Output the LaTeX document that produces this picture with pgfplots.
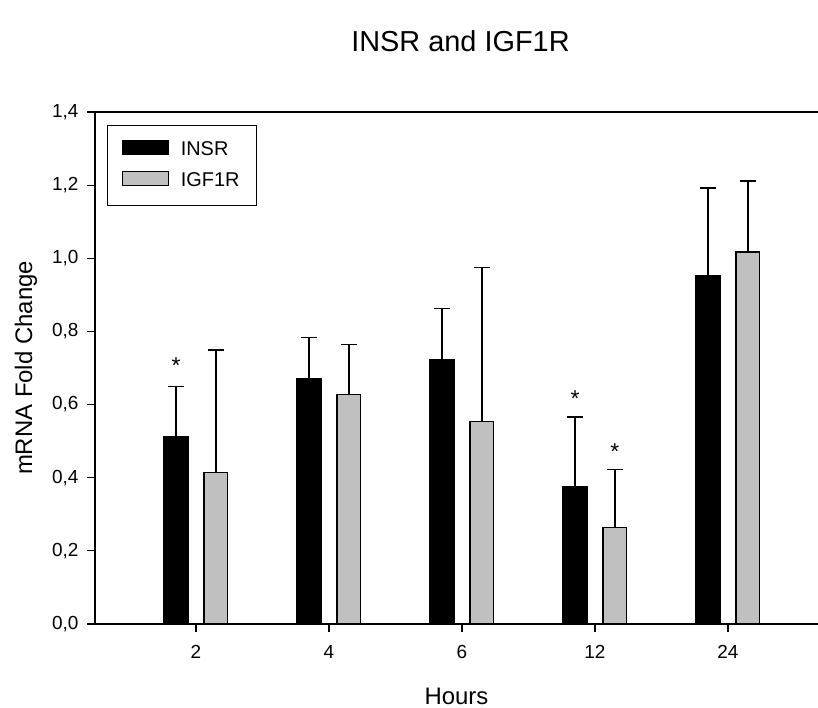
\documentclass[border=0pt]{standalone}
\usepackage{pgfplots}
\pgfplotsset{compat=1.18}
\usepackage{fontspec}
\setmainfont{Liberation Sans}
\definecolor{barGray}{RGB}{192,192,192}
\begin{document}
\begin{tikzpicture}
\useasboundingbox (0,0) rectangle (409bp,354bp);
\begin{axis}[
  at={(47.5bp,42bp)}, anchor=south west,
  scale only axis, width=361.5bp, height=256bp,
  xmin=-0.759, xmax=4.677, ymin=0, ymax=1.4,
  axis lines*=left, axis line style={-, line width=0.7bp},
  tick align=outside, major tick length=3.75bp,
  tick style={line width=0.6bp, black},
  xtick={0,1,2,3,4}, xticklabels={2,4,6,12,24},
  ytick={0,0.2,0.4,0.6,0.8,1.0,1.2,1.4},
  yticklabels={{0,0},{0,2},{0,4},{0,6},{0,8},{1,0},{1,2},{1,4}},
  ticklabel style={font=\fontsize{9.5}{11}\selectfont},
  xticklabel style={yshift=-3.5bp},
  yticklabel style={xshift=-1bp},
  title={INSR and IGF1R},
  title style={at={(axis description cs:0.5,1)}, anchor=center, yshift=29.5bp, xshift=2bp, font=\fontsize{14.5}{16}\selectfont},
  xlabel={Hours},
  every axis x label/.style={at={(axis description cs:0.5,0)}, anchor=center, yshift=-36bp, font=\fontsize{12}{14}\selectfont},
  ylabel={mRNA Fold Change},
  every axis y label/.style={at={(axis description cs:0,0.5)}, xshift=-34.5bp, rotate=90, anchor=center, font=\fontsize{12}{14}\selectfont},
  legend image code/.code={\draw[#1, line width=0.6bp] (0bp,-2.4bp) rectangle (23bp,4.6bp);},
  legend cell align=left,
  legend style={at={(axis description cs:0,1)}, anchor=north west, xshift=6bp, yshift=-6.5bp,
    draw=black, line width=0.6bp, font=\fontsize{10}{12}\selectfont,
    inner xsep=7bp, inner ysep=6.5bp, row sep=4bp, column sep=4.5bp,
    nodes={inner sep=1.5bp}},
  error bars/error bar style={line width=0.7bp, black},
  error bars/error mark options={rotate=90, mark size=4bp, line width=0.7bp, black},
]
\addplot[ybar, bar width=0.18, bar shift=0, fill=black, draw=black, line width=0.6bp,
  error bars/.cd, y dir=plus, y explicit]
  coordinates {(-0.15,0.513) +- (0,0.137) (0.85,0.671) +- (0,0.112) (1.85,0.723) +- (0,0.140)
               (2.85,0.376) +- (0,0.190) (3.85,0.953) +- (0,0.239)};
\addlegendentry{INSR}
\addplot[ybar, bar width=0.18, bar shift=0, fill=barGray, draw=black, line width=0.6bp,
  error bars/.cd, y dir=plus, y explicit]
  coordinates {(0.15,0.415) +- (0,0.334) (1.15,0.627) +- (0,0.137) (2.15,0.553) +- (0,0.422)
               (3.15,0.263) +- (0,0.159) (4.15,1.017) +- (0,0.194)};
\addlegendentry{IGF1R}
\addplot[draw=none, mark=none, forget plot, nodes near coords={*},
  every node near coord/.style={anchor=center, inner sep=0pt, yshift=-1.8bp, font=\fontsize{11.5}{12}\selectfont}]
  coordinates {(-0.15,0.715) (2.85,0.625) (3.15,0.482)};
\draw[line width=0.8bp] (rel axis cs:0,1) -- (rel axis cs:1,1);
\end{axis}
\end{tikzpicture}
\end{document}
